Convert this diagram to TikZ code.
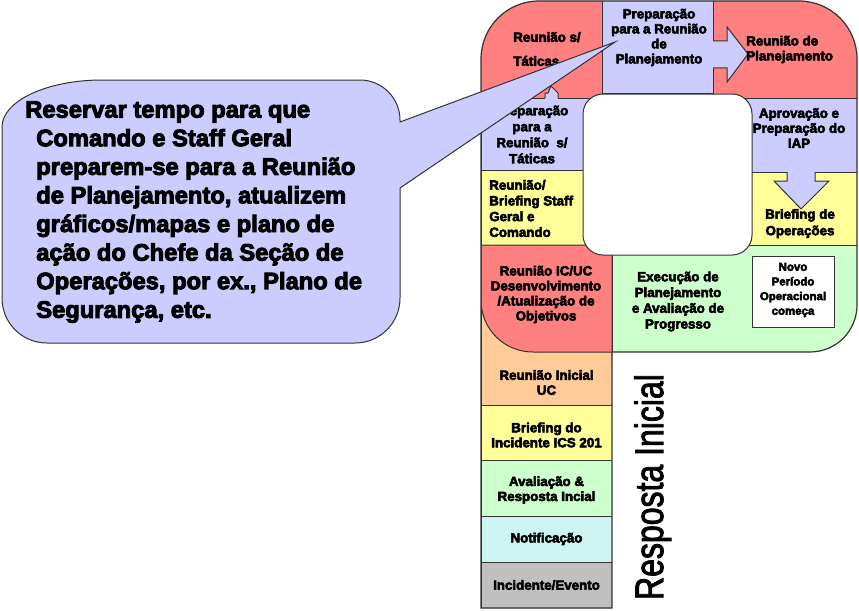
\documentclass[tikz,border=0pt]{standalone}
\usepackage{fontspec}
\newfontfamily\heavy{Liberation Sans Bold}[FakeBold=4]
\newfontfamily\plainsans{Liberation Sans}[FakeBold=2.5]
\definecolor{cred}{HTML}{FF8080}
\definecolor{clav}{HTML}{CCCCFF}
\definecolor{cyel}{HTML}{FFFF99}
\definecolor{cgrn}{HTML}{CCFFCC}
\definecolor{corg}{HTML}{FFCC99}
\definecolor{ccya}{HTML}{CDF3F3}
\definecolor{cgry}{HTML}{C0C0C0}
\definecolor{cline}{HTML}{333333}
\begin{document}
\begin{tikzpicture}[x=0.75pt,y=-0.75pt,
  box/.style={fill=#1, draw=cline, line width=0.75pt},
  lbl/.style={font={\heavy\fontsize{10pt}{#1}\selectfont}, align=center, inner sep=0pt, text=black},
  lbl/.default=11.25pt]
\useasboundingbox (0,0) rectangle (859,610);
\fill[white] (0,0) rectangle (859,610);
% ---------- P shape boxes ----------
\begin{scope}
\clip (481,608) -- (481,59) .. controls (481,27) and (507,1) .. (539,1) -- (799,1)
  .. controls (831,1) and (857,27) .. (857,59) -- (857,305)
  .. controls (857,331) and (836,352) .. (810,352) -- (612,352) -- (612,608) -- cycle;
\filldraw[box=cred] (470,-5) rectangle (602,98);
\filldraw[box=clav] (602,-5) rectangle (713,93);
\filldraw[box=cred] (713,-5) rectangle (870,98);
\filldraw[box=clav] (481,98) rectangle (600,170);
\filldraw[box=cyel] (481,170) rectangle (600,245);
\filldraw[box=cgrn] (612,245) rectangle (870,365);
\filldraw[box=clav] (740,98) rectangle (870,172);
\filldraw[box=cyel] (740,172) rectangle (870,245);
\filldraw[box=corg] (481,302) rectangle (612,405);
\filldraw[box=cyel] (481,405) rectangle (612,460);
\filldraw[box=cgrn] (481,460) rectangle (612,516);
\filldraw[box=ccya] (481,516) rectangle (612,562);
\filldraw[box=cgry] (481,562) rectangle (612,608);
\filldraw[box=cred] (481,245) -- (612,245) -- (612,352) -- (533,352)
  .. controls (504,352) and (481,329) .. (481,300) -- cycle;
% arrows
\fill[clav] (712,41) -- (727,41) -- (727,27) -- (748,54) -- (727,82) -- (727,68) -- (712,68) -- cycle;
\draw[cline, line width=0.75pt, line join=miter] (713,41) -- (727,41) -- (727,27) -- (748,54) -- (727,82) -- (727,68) -- (713,68);
\fill[clav] (787,171) -- (787,181) -- (774,181) -- (801,209) -- (829,181) -- (815,181) -- (815,171) -- cycle;
\draw[cline, line width=0.75pt] (787,172) -- (787,181) -- (774,181) -- (801,209) -- (829,181) -- (815,181) -- (815,172);
\fill[clav] (545,99) -- (545,93) -- (548,93) -- (551,86) -- (558,93) -- (558,99) -- cycle;
\draw[cline, line width=0.75pt] (545,98) -- (545,93) -- (548,93) -- (551,86) -- (558,93) -- (558,98);
\end{scope}
% outline of the P
\draw[cline, line width=0.9pt] (481,608) -- (481,59) .. controls (481,27) and (507,1) .. (539,1) -- (799,1)
  .. controls (831,1) and (857,27) .. (857,59) -- (857,305)
  .. controls (857,331) and (836,352) .. (810,352) -- (612,352) -- (612,608) -- cycle;
% inner white hole and white box
\filldraw[fill=white, draw=cline, line width=0.75pt, rounded corners=15pt] (583,94) rectangle (752,255);
\filldraw[fill=white, draw=cline, line width=0.75pt] (752,256) rectangle (834,327);
% ---------- labels ----------
\node[lbl=18pt, align=left, anchor=west] (t1) at (513,49) {Reunião s/\\Táticas};
\node[lbl] (t2) at (659,37.5) {Preparação\\para a Reunião\\de\\Planejamento};
\node[lbl, align=left, anchor=west] (t3) at (746,49.5) {Reunião de\\Planejamento};
\node[lbl=12pt] (t4) at (532,134.5) {Preparação\\para a\\Reunião\ \ s/\\Táticas};
\node[lbl=11.8pt, align=left, anchor=west] (t5) at (489,208.5) {Reunião/\\Briefing Staff\\Geral e\\Comando};
\node[lbl] (t6) at (799,128) {Aprovação e\\Preparação do\\IAP};
\node[lbl=12.4pt] (t7) at (800,223.5) {Briefing de\\Operações};
\node[lbl] (t8) at (546,294.5) {Reunião IC/UC\\Desenvolvimento\\/Atualização de\\Objetivos};
\node[lbl=11.8pt] (t9) at (678,301.5) {Execução de\\Planejamento\\e Avaliação de\\Progresso};
\node[lbl, font={\heavy\fontsize{8.6pt}{11pt}\selectfont}] (t10) at (793,290) {Novo\\Período\\Operacional\\começa};
\node[lbl] (s1) at (546.5,382.5) {Reunião Inicial\\UC};
\node[lbl] (s2) at (546.5,435) {Briefing do\\Incidente ICS 201};
\node[lbl] (s3) at (546.5,490) {Avaliação \&\\Resposta Incial};
\node[lbl] (s4) at (546.5,539) {Notificação};
\node[lbl] (s5) at (546.5,585) {Incidente/Evento};
\node[rotate=90, anchor=base, inner sep=0pt, font={\plainsans\fontsize{24pt}{24pt}\selectfont}] (ri) at (663,487) {\scalebox{1}[1.24]{Resposta Inicial}};
% ---------- callout ----------
\filldraw[fill=clav, draw=cline, line width=0.75pt] (400,122) -- (615,42) -- (400,188) -- (400,298)
  .. controls (400,323) and (380,343) .. (355,343) -- (47,343)
  .. controls (22,343) and (2,323) .. (2,298) -- (2,127)
  .. controls (2,101) and (47,80) .. (102,80) -- (360,80)
  .. controls (382,80) and (400,98) .. (400,120) -- cycle;
\node[anchor=north west, align=left, inner sep=0pt, font={\heavy\fontsize{17.8pt}{21.45pt}\selectfont}] (ct) at (36,101)
 {\hspace*{-8.25pt}Reservar tempo para que\\Comando e Staff Geral\\preparem-se para a Reunião\\de Planejamento, atualizem\\gráficos/mapas e plano de\\ação do Chefe da Seção de\\Operações, por ex., Plano de\\Segurança, etc.};
\end{tikzpicture}
\end{document}
